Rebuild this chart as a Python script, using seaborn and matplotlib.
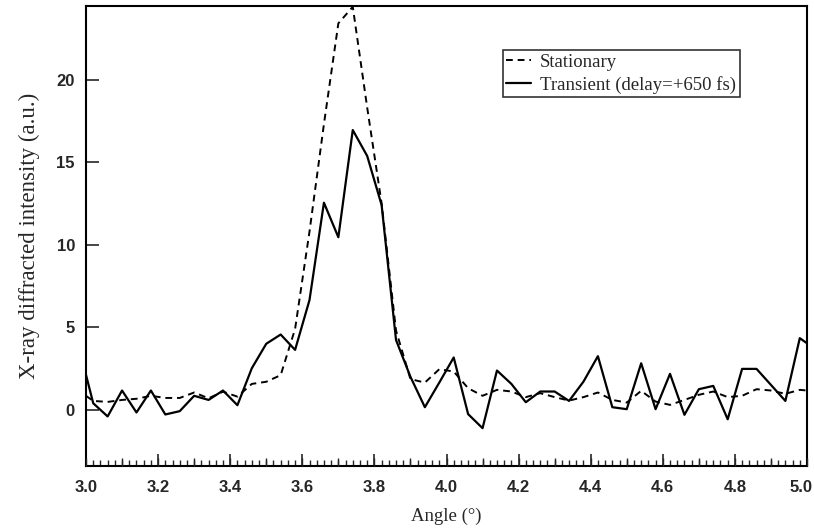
import numpy as np
import pandas as pd
import seaborn as sns
import matplotlib
matplotlib.use("Agg")
import matplotlib.pyplot as plt
import matplotlib.transforms as mtransforms
from matplotlib.ticker import MultipleLocator

# angles (deg) : 3.00 puis pas de 0.04 de 3.02 a 4.98, puis 5.00
angle = [3.00] + [round(3.02 + 0.04 * k, 2) for k in range(50)] + [5.00]

stationary = [
    0.85, 0.54, 0.48, 0.60, 0.67, 0.85, 0.72, 0.72, 1.05, 0.70,
    1.10, 0.80, 1.57, 1.70, 2.10, 4.90, 10.8, 17.3, 23.4, 24.4,
    18.3, 12.5, 4.80, 1.86, 1.65, 2.46, 2.32, 1.31, 0.85, 1.21,
    1.11, 0.77, 1.01, 0.77, 0.56, 0.77, 1.05, 0.60, 0.44, 1.15,
    0.50, 0.30, 0.60, 0.91, 1.11, 0.77, 0.85, 1.25, 1.17, 0.97,
    1.21, 1.17,
]

transient = [
    2.12, 0.40, -0.40, 1.17, -0.16, 1.17, -0.28, -0.08, 0.85, 0.60,
    1.17, 0.28, 2.52, 4.00, 4.56, 3.63, 6.65, 12.54, 10.45, 16.94,
    15.37, 12.40, 4.23, 2.00, 0.16, 1.65, 3.17, -0.26, -1.11, 2.38,
    1.57, 0.46, 1.11, 1.11, 0.54, 1.71, 3.25, 0.16, 0.04, 2.82,
    0.04, 2.18, -0.30, 1.25, 1.45, -0.57, 2.48, 2.48, 1.51, 0.54,
    4.34, 4.03,
]

df = pd.DataFrame({"Angle": angle, "Stationary": stationary, "Transient": transient})

sns.set_style("ticks")
plt.rcParams["font.family"] = ["Liberation Serif", "DejaVu Serif"]

fig = plt.figure(figsize=(8.14, 5.29), dpi=100)
ax = fig.add_axes([86 / 814, 1 - 466 / 529, 721 / 814, 460 / 529])

sns.lineplot(data=df, x="Angle", y="Stationary", ax=ax, color="black",
             linewidth=1.4, linestyle=(0, (3.5, 2.5)), label="Stationary")
sns.lineplot(data=df, x="Angle", y="Transient", ax=ax, color="black",
             linewidth=1.6, label="Transient (delay=+650 fs)")

ax.set_xlim(3.0, 5.0)
ax.set_ylim(-3.4, 24.45)

ax.xaxis.set_major_locator(MultipleLocator(0.2))
ax.xaxis.set_minor_locator(MultipleLocator(0.02))
ax.yaxis.set_major_locator(MultipleLocator(5))
ax.tick_params(axis="both", which="major", direction="in", length=9, width=1.2)
ax.tick_params(axis="x", which="minor", direction="in", length=4, width=1.0)
ax.tick_params(axis="x", which="major", pad=10)
ax.tick_params(axis="y", which="major", pad=8)

# graduations intermediaires (0.1) un peu plus longues
ax2 = ax.twiny()
ax2.set_xlim(ax.get_xlim())
ax2.xaxis.set_major_locator(MultipleLocator(0.1))
ax2.tick_params(axis="x", which="major", direction="in", length=6, width=1.0,
                top=False, bottom=True, labeltop=False, labelbottom=False)
for s in ax2.spines.values():
    s.set_visible(False)

for s in ax.spines.values():
    s.set_visible(True)
    s.set_linewidth(1.5)
    s.set_color("black")

ax.set_xlabel("Angle (°)", fontsize=13.5, labelpad=9)
ax.set_ylabel("X-ray diffracted intensity (a.u.)", fontsize=16.5, labelpad=12)

leg = ax.legend(loc="upper left", bbox_to_anchor=(0.578, 0.904), fontsize=13.5,
                frameon=True, fancybox=False, edgecolor="black",
                handlelength=1.3, handletextpad=0.5, borderpad=0.2,
                labelspacing=0.25, borderaxespad=0)
leg.get_frame().set_linewidth(1.2)

fig.canvas.draw()
for lab in ax.get_xticklabels() + ax.get_yticklabels():
    lab.set_family(["Liberation Sans", "DejaVu Sans"])
    lab.set_fontweight("bold")
    lab.set_fontsize(12)

# le label 5.0 touche le bord droit : aligne a droite, un peu decale
for tick in ax.xaxis.get_major_ticks():
    if abs(tick.get_loc() - 5.0) < 1e-6:
        tick.label1.set_horizontalalignment("right")
        off = mtransforms.ScaledTranslation(6 / 100, 0, fig.dpi_scale_trans)
        tick.label1.set_transform(tick.label1.get_transform() + off)

fig.savefig("out.png", dpi=100)
